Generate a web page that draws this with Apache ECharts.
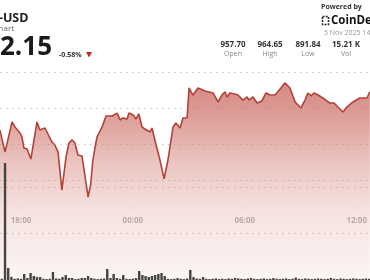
<!DOCTYPE html>
<html><head><meta charset="utf-8">
<script src="https://cdn.jsdelivr.net/npm/echarts@6/dist/echarts.min.js"></script>
<style>html,body{margin:0;padding:0;background:#fff}#c{width:370px;height:280px}</style>
</head><body><div id="c"></div>
<script>
// ---- data ----
const times = ['16:54','17:10','17:32','17:41','17:57','18:03','18:09','18:19','18:31','18:50','18:59','19:15','19:37','19:46','19:56','20:08','20:21','20:30','20:40','20:49','20:58','21:11','21:30','21:38','21:45','21:52','21:58','22:14','22:26','22:32','22:45','23:01','23:10','23:19','23:32','23:38','23:51','00:00','00:09','00:19','00:28','00:44','00:50','00:59','01:15','01:28','01:40','01:56','02:05','02:18','02:27','02:40','02:46','02:58','03:05','03:14','03:36','04:01','04:17','04:29','04:39','04:45','04:54','05:10','05:19','05:35','05:48','05:54','06:06','06:19','06:34','06:47','06:59','07:15','07:31','07:46','08:02','08:18','08:36','08:49','08:58','09:08','09:17','09:30','09:45','10:07','10:20','10:32','10:48','11:00','11:19','11:41','12:03','12:12'];
const prices = [931.5,918.8,936.2,933.3,929.8,927.5,921.2,920.6,914.8,936.2,931.5,932.7,924.6,922.9,918.8,896.9,916.0,924.0,925.8,924.0,917.1,916.5,892.9,899.8,914.2,921.7,927.5,933.3,939.6,940.2,939.6,941.3,937.3,938.5,937.9,941.3,940.2,937.9,940.8,933.3,932.1,930.4,932.7,925.8,914.2,903.3,914.2,933.3,935.6,932.7,938.5,938.5,955.8,951.7,953.5,955.8,954.0,952.9,947.7,951.7,953.5,950.6,952.9,952.3,951.7,948.8,950.6,948.8,950.6,947.1,948.3,952.9,951.7,951.7,955.2,958.7,955.8,947.7,944.2,948.8,952.9,951.2,952.9,951.7,950.0,947.1,947.1,944.8,941.9,944.8,947.7,950.0,950.0,953.5];
const volStart = '16:50';
const volStepMinutes = 10;
const volumes = [10,8,755,77,20,8,10,8,39,13,
  45,26,19,19,8,6,8,52,10,8,
  19,32,13,13,6,8,13,13,26,13,
  8,6,8,10,71,13,39,13,8,32,
  8,6,8,13,58,32,26,19,26,32,
  39,45,26,8,6,8,13,8,6,10,
  65,19,10,8,19,8,6,8,10,6,
  8,6,10,8,13,10,8,6,10,13,
  8,6,8,10,6,8,13,8,6,8,
  10,6,8,16,8,6,10,8,6,8,
  10,8,6,8,13,8,6,10,8,6,
  8,10,8,6,8,10,8];
const tickLabels = ['18:00','00:00','06:00','12:00'];
const stats = [['957.70','Open'],['964.65','High'],['891.84','Low'],['15.21 K','Vol']];
const ticker = 'BNB-USD';
const subtitle = 'Chart';
const lastPrice = '952.15';
const changePct = '-0.58%';
const poweredBy = 'Powered by';
const brand = 'CoinDesk';
const stamp = '5 Nov 2025 14:00';

// ---- helpers ----
function toHours(t){const p=t.split(':').map(Number);let H=p[0]+p[1]/60;if(p[0]<16)H+=24;return H-18;}
const lineData = times.map((t,i)=>[toHours(t),prices[i]]);
const v0 = toHours(volStart);
const volData = volumes.map((v,i)=>[v0+i*volStepMinutes/60, v]);

const X_MIN = -21/(345/18), X_MAX = 18 + 4/(345/18);
const FONT = '"Open Sans", "Noto Sans", sans-serif';
const dotted = {color:'rgba(150,150,150,0.55)', width:1, type:[1.5,4.5]};

const chart = echarts.init(document.getElementById('c'), null, {renderer:'canvas'});

const graphics = [
  {type:'text', style:{x:28.5, y:18, text:ticker, align:'right', verticalAlign:'middle', font:'bold 12.5px '+FONT, fill:'#222'}},
  {type:'text', style:{x:14, y:28.5, text:subtitle, align:'right', verticalAlign:'middle', font:'8px '+FONT, fill:'#666'}},
  {type:'text', style:{x:52, y:47.5, text:lastPrice, align:'right', verticalAlign:'middle', font:'bold 26px '+FONT, fill:'#1a1a1a'}},
  {type:'text', style:{x:59, y:54.5, text:changePct, align:'left', verticalAlign:'middle', font:'bold 7px '+FONT, fill:'#333'}},
  {type:'polygon', shape:{points:[[86,52],[92,52],[89,57.5]]}, style:{fill:'#c62828'}},
  {type:'text', style:{x:321, y:7, text:poweredBy, align:'left', verticalAlign:'middle', font:'bold 7px '+FONT, fill:'#333'}},
  {type:'rect', shape:{x:322.5, y:16.5, width:6, height:8}, style:{fill:'none', stroke:'#222', lineWidth:1.6, lineDash:[2,1.2]}},
  {type:'text', style:{x:331, y:20.5, text:brand, align:'left', verticalAlign:'middle', font:'bold 11.5px '+FONT, fill:'#111'}},
  {type:'text', style:{x:324, y:33, text:stamp, align:'left', verticalAlign:'middle', font:'7px '+FONT, fill:'#999'}}
];
const statX = [233, 270, 308, 346];
stats.forEach((s,i)=>{
  graphics.push({type:'text', style:{x:statX[i], y:45, text:s[0], align:'center', verticalAlign:'middle', font:'bold 8px '+FONT, fill:'#333'}});
  graphics.push({type:'text', style:{x:statX[i], y:53.5, text:s[1], align:'center', verticalAlign:'middle', font:'7px '+FONT, fill:'#888'}});
});

chart.setOption({
  animation:false,
  backgroundColor:'#fff',
  graphic: graphics,
  grid:[
    {left:0, right:0, top:72, bottom:0},
    {left:21, right:4, top:72, bottom:73},
    {left:0, right:0, top:72, bottom:100},
    {left:0, right:0, top:187, bottom:0}
  ],
  xAxis:[
    {gridIndex:0, type:'value', min:X_MIN, max:X_MAX, show:false},
    {gridIndex:1, type:'value', min:0, max:18, interval:6, position:'bottom',
      axisLine:{show:false}, splitLine:{show:false},
      axisTick:{show:true, length:2, lineStyle:{color:'#aaa'}},
      axisLabel:{show:true, margin:10, fontSize:8, fontWeight:'bold', color:'#333', fontFamily:FONT,
        showMinLabel:true, showMaxLabel:true,
        formatter:v=>tickLabels[Math.round(v/6)]}},
    {gridIndex:2, type:'value', min:0, max:1, show:false},
    {gridIndex:3, type:'value', min:X_MIN, max:X_MAX, show:false}
  ],
  yAxis:[
    {gridIndex:0, type:'value', min:845, max:965, show:false},
    {gridIndex:1, type:'value', min:0, max:1, show:false},
    {gridIndex:2, type:'value', min:0, max:3, interval:1, z:5,
      axisLine:{show:false}, axisTick:{show:false}, axisLabel:{show:false},
      splitLine:{show:true, lineStyle:dotted}},
    {gridIndex:3, type:'value', min:0, max:600, interval:300, z:5,
      axisLine:{show:false}, axisTick:{show:false}, axisLabel:{show:false},
      splitLine:{show:true, lineStyle:dotted}}
  ],
  series:[
    {type:'line', xAxisIndex:0, yAxisIndex:0, data:lineData, showSymbol:false, symbol:'none',
      lineStyle:{color:'#b4403a', width:1.6},
      areaStyle:{origin:'start', color:new echarts.graphic.LinearGradient(0,0,0,1,[
        {offset:0, color:'#c4574f'},
        {offset:0.15, color:'#cd7068'},
        {offset:0.4, color:'#e2aaa4'},
        {offset:0.65, color:'#f1d6d2'},
        {offset:1, color:'#fbf1f0'}])}},
    {type:'bar', xAxisIndex:3, yAxisIndex:3, data:volData, barWidth:2.4, clip:false, z:4,
      itemStyle:{color:'#444'}}
  ]
});
</script></body></html>
